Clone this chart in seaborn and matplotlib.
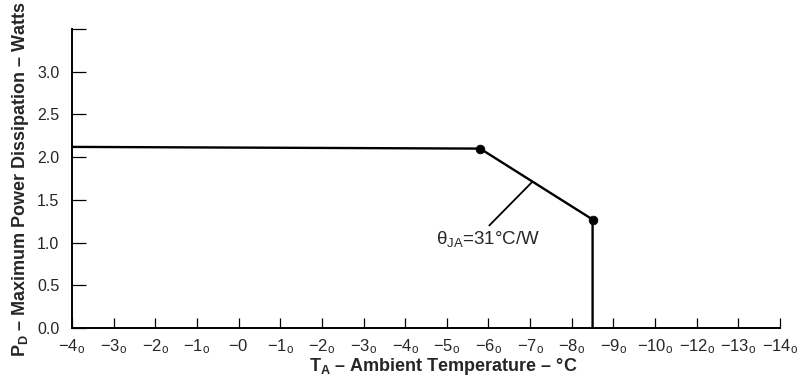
import matplotlib
matplotlib.use("Agg")
import matplotlib.pyplot as plt
import seaborn as sns
import pandas as pd

# derating curve
temps = [-40, 58, 85, 85]
power = [2.12, 2.10, 1.27, 0.0]
knee_temps = [58, 85]
knee_power = [2.10, 1.27]

x_ticks = list(range(-40, 131, 10))
# labels as they appear in the scanned sheet
x_tick_labels = [r"$-4_{\mathrm{o}}$", r"$-3_{\mathrm{o}}$", r"$-2_{\mathrm{o}}$", r"$-1_{\mathrm{o}}$",
                 r"$-0$", r"$-1_{\mathrm{o}}$", r"$-2_{\mathrm{o}}$", r"$-3_{\mathrm{o}}$",
                 r"$-4_{\mathrm{o}}$", r"$-5_{\mathrm{o}}$", r"$-6_{\mathrm{o}}$", r"$-7_{\mathrm{o}}$",
                 r"$-8_{\mathrm{o}}$", r"$-9_{\mathrm{o}}$", r"$-10_{\mathrm{o}}$", r"$-12_{\mathrm{o}}$",
                 r"$-13_{\mathrm{o}}$", r"$-14_{\mathrm{o}}$"]
y_ticks = [0.0, 0.5, 1.0, 1.5, 2.0, 2.5, 3.0, 3.5]
y_tick_labels = ["0.0", "0.5", "1.0", "1.5", "2.0", "2.5", "3.0", ""]

sns.set_theme(style="white")
plt.rcParams["font.family"] = ["Liberation Sans", "DejaVu Sans"]
plt.rcParams["mathtext.fontset"] = "custom"
plt.rcParams["mathtext.rm"] = "Liberation Sans"
plt.rcParams["mathtext.it"] = "Liberation Sans"
plt.rcParams["mathtext.bf"] = "Liberation Sans:bold"

curve = pd.DataFrame({"T": temps, "P": power})
knees = pd.DataFrame({"T": knee_temps, "P": knee_power})

fig = plt.figure(figsize=(7.98, 3.82), dpi=100)
ax = fig.add_axes([72 / 798, 1 - 328 / 382, 708 / 798, 299 / 382])

sns.lineplot(data=curve, x="T", y="P", sort=False, estimator=None, color="black", linewidth=1.7, ax=ax)
sns.scatterplot(data=knees, x="T", y="P", color="black", s=40, edgecolor="black", zorder=5, ax=ax)

# leader line to the slope label
ax.annotate("", xy=(70.5, 1.71), xytext=(60.2, 1.20),
            arrowprops=dict(arrowstyle="-", color="black", lw=1.3, shrinkA=0, shrinkB=0))
ax.text(60, 1.04, r"θ$_{\mathrm{JA}}$=31°C/W", ha="center", va="center", fontsize=13.5)

ax.set_xlim(-40, 130)
ax.set_ylim(0, 3.5)
ax.set_xticks(x_ticks)
ax.set_xticklabels(x_tick_labels, fontsize=12)
ax.set_yticks(y_ticks)
ax.set_yticklabels(y_tick_labels, fontsize=11.5)

for side in ["top", "right"]:
    ax.spines[side].set_visible(False)
for side in ["left", "bottom"]:
    ax.spines[side].set_color("black")
    ax.spines[side].set_linewidth(1.4)

ax.tick_params(axis="x", bottom=True, direction="in", length=7, width=0.9, color="black", pad=7)
ax.tick_params(axis="y", left=True, direction="in", length=10, width=0.9, color="black", pad=9)

ax.set_xlabel(r"$\mathbf{T_A}$ – Ambient Temperature – °C", fontsize=13, fontweight="bold")
ax.set_ylabel(r"$\mathbf{P_D}$ – Maximum Power Dissipation – Watts", fontsize=13, fontweight="bold")
ax.xaxis.set_label_coords(0.525, -0.095)
ax.yaxis.set_label_coords(-0.058, 0.5)

fig.savefig("out.png", dpi=100)
plt.close(fig)
